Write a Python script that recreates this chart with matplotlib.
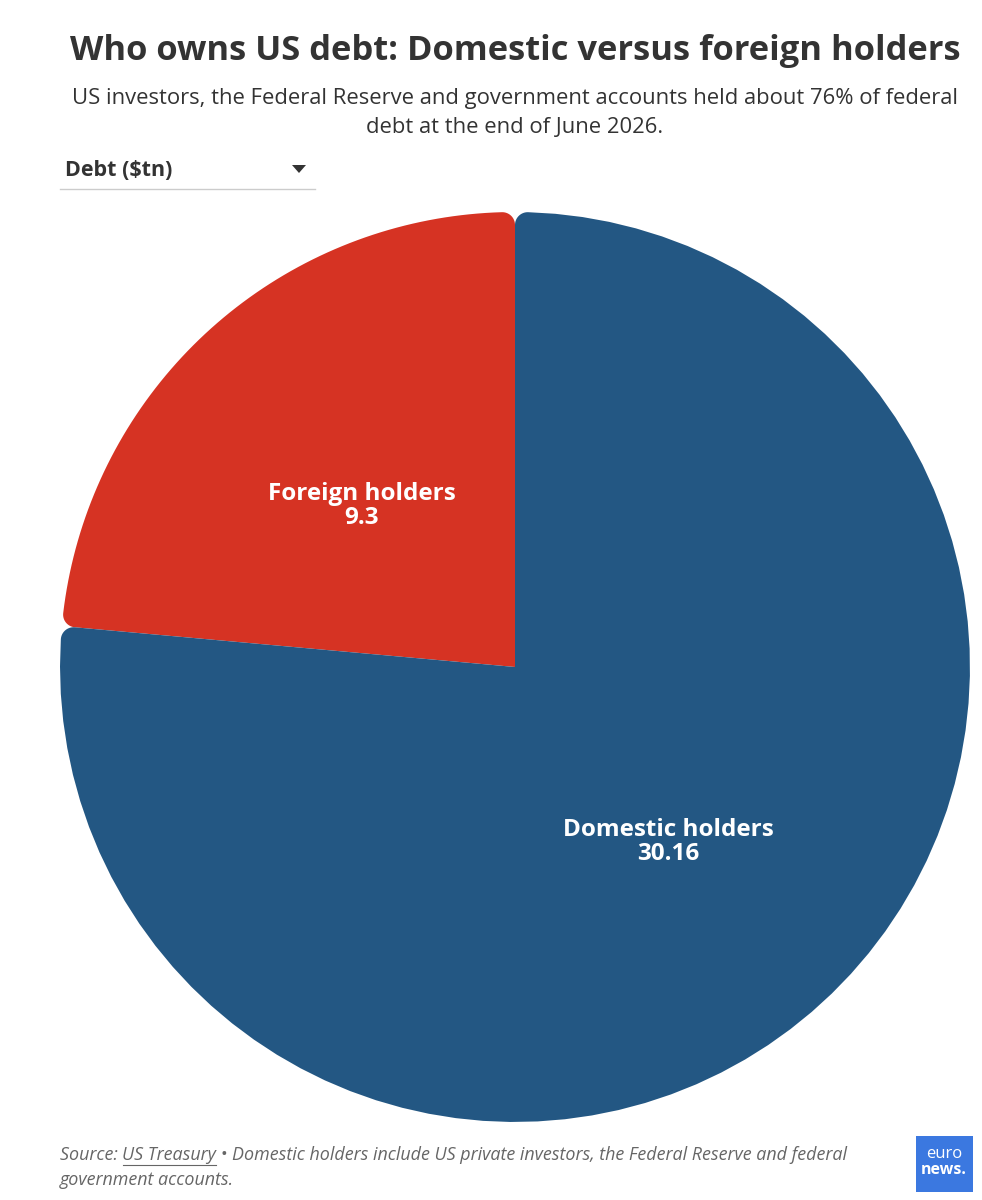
#!/usr/bin/env python3

import numpy as np
import matplotlib
matplotlib.use('Agg')
import matplotlib.pyplot as plt
from matplotlib.path import Path
from matplotlib.patches import PathPatch, FancyBboxPatch, Polygon

plt.rcParams['font.family'] = ['Open Sans', 'DejaVu Sans']

# data
holders = ['Foreign holders', 'Domestic holders']
debt_tn = [9.3, 30.16]
value_labels = ['9.3', '30.16']
colors = ['#d63323', '#235783']

W, H = 982, 1200
fig = plt.figure(figsize=(W / 100, H / 100), dpi=100)
fig.patch.set_facecolor('white')


def px(x, y):
    # pixel coords (from top-left) to figure fraction
    return x / W, 1 - y / H


def rounded_wedge(t1, t2, r, rc, n=80):
    # wedge from origin with the two outer corners filleted
    t1, t2 = np.radians(t1), np.radians(t2)
    d = np.arcsin(rc / (r - rc))
    L = np.sqrt((r - rc) ** 2 - rc ** 2)
    pts = [(0.0, 0.0), (L * np.cos(t1), L * np.sin(t1))]
    c = (r - rc) * np.array([np.cos(t1 + d), np.sin(t1 + d)])
    for a in np.linspace(t1 - np.pi / 2, t1 + d, 20):
        pts.append(tuple(c + rc * np.array([np.cos(a), np.sin(a)])))
    for a in np.linspace(t1 + d, t2 - d, n):
        pts.append((r * np.cos(a), r * np.sin(a)))
    c = (r - rc) * np.array([np.cos(t2 - d), np.sin(t2 - d)])
    for a in np.linspace(t2 - d, t2 + np.pi / 2, 20):
        pts.append(tuple(c + rc * np.array([np.cos(a), np.sin(a)])))
    pts.append((0.0, 0.0))
    return Path(pts, closed=True)


# pie axes
cx, cy, R = 515, 667, 455
ax = fig.add_axes([(cx - R) / W, (H - cy - R) / H, 2 * R / W, 2 * R / H])
labels = ['{}\n{}'.format(h, v) for h, v in zip(holders, value_labels)]
wedges, texts = ax.pie(debt_tn, colors=colors, startangle=90, counterclock=True,
                       labels=labels, labeldistance=0.5, radius=1,
                       textprops=dict(color='white', fontsize=17.5, fontweight='bold',
                                      ha='center', va='center', linespacing=1.0))
for w in wedges:
    w.set_visible(False)
    p = rounded_wedge(w.theta1, w.theta2, w.r, 0.028)
    ax.add_patch(PathPatch(p, facecolor=w.get_facecolor(), edgecolor='none', zorder=1))
for t in texts:
    t.set_zorder(3)
    x, y = t.get_position()
    t.set_position((x, y - 0.016))
ax.set_xlim(-1, 1)
ax.set_ylim(-1, 1)
ax.set_aspect('equal')
ax.axis('off')

# title and subtitle
fig.text(*px(515, 51), 'Who owns US debt: Domestic versus foreign holders',
         ha='center', va='center', fontsize=24.8, fontweight='bold', color='#333333')
fig.text(*px(515, 113), 'US investors, the Federal Reserve and government accounts held about 76% of federal\n'
         'debt at the end of June 2026.', ha='center', va='center', fontsize=15.8,
         color='#333333', linespacing=1.55)

# dropdown
fig.text(*px(65, 170), 'Debt ($tn)', ha='left', va='center', fontsize=15.5,
         fontweight='bold', color='#333333')
tri = Polygon([px(292, 165), px(306, 165), px(299, 173)], closed=True,
              transform=fig.transFigure, facecolor='#333333', edgecolor='none')
fig.add_artist(tri)
fig.add_artist(plt.Line2D([60 / W, 315 / W], [1 - 189 / H, 1 - 189 / H],
                          color='#cccccc', lw=1))

# footer
foot = dict(ha='left', va='center', fontsize=12.9, style='italic', color='#666666')
t1 = fig.text(*px(60, 1155), 'Source: ', **foot)
fig.canvas.draw()
bb = t1.get_window_extent()
t2 = fig.text(bb.x1 / W, 1 - 1155 / H, 'US Treasury', **foot)
fig.canvas.draw()
bb2 = t2.get_window_extent()
fig.add_artist(plt.Line2D([bb2.x0 / W, bb2.x1 / W], [1 - 1165 / H, 1 - 1165 / H],
                          color='#666666', lw=0.8))
fig.text(bb2.x1 / W, 1 - 1155 / H,
         ' \u2022 Domestic holders include US private investors, the Federal Reserve and federal',
         **foot)
fig.text(*px(60, 1180), 'government accounts.', **foot)

# logo
logo = FancyBboxPatch((916 / W, 1 - 1192 / H), 57 / W, 56 / H,
                      boxstyle='square,pad=0', transform=fig.transFigure,
                      facecolor='#3b78e0', edgecolor='none')
fig.add_artist(logo)
fig.text(*px(944, 1154), 'euro', ha='center', va='center', fontsize=12, color='white')
fig.text(*px(944, 1170), 'news.', ha='center', va='center', fontsize=11.5,
         fontweight='bold', color='white')

fig.savefig('out.png', dpi=100, facecolor='white')
